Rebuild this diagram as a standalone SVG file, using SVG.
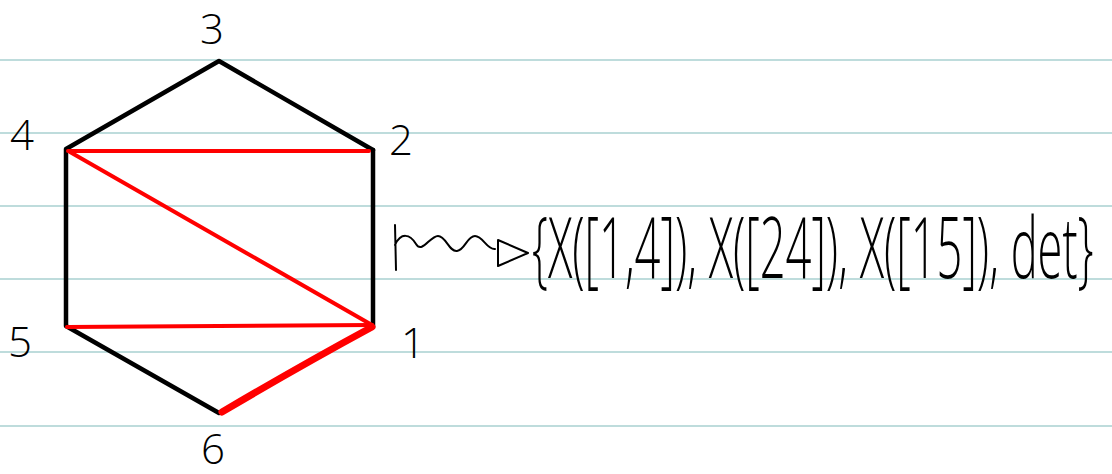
<svg xmlns="http://www.w3.org/2000/svg" width="1112" height="474" viewBox="0 0 1112 474">
<style>
.rule{stroke:#a9d0d0;stroke-width:1.5}
.edge{stroke:#000;stroke-width:4.5;fill:none;stroke-linecap:round;stroke-linejoin:round}
.red{stroke:#ff0000;stroke-width:4;fill:none;stroke-linecap:round}
.thick{stroke:#ff0000;stroke-width:7;fill:none;stroke-linecap:round}
.lbl{font-family:"Open Sans","Liberation Sans",sans-serif;font-weight:300;font-size:42px;fill:#000;text-anchor:middle}
.ink{stroke:#000;stroke-width:2;fill:none;stroke-linecap:round;stroke-linejoin:round}
</style>
<rect width="1112" height="474" fill="#fff"/>
<g id="rules">
<line class="rule" x1="0" y1="60" x2="1112" y2="60"/>
<line class="rule" x1="0" y1="133" x2="1112" y2="133"/>
<line class="rule" x1="0" y1="206" x2="1112" y2="206"/>
<line class="rule" x1="0" y1="279" x2="1112" y2="279"/>
<line class="rule" x1="0" y1="352" x2="1112" y2="352"/>
<line class="rule" x1="0" y1="426" x2="1112" y2="426"/>
</g>
<g id="connectors">
<polyline class="edge" points="373,150 219,61 66,149 66,326 219,413"/>
<line class="edge" x1="373" y1="150" x2="373" y2="327"/>
<line class="red" x1="68" y1="151" x2="369" y2="151"/>
<line class="red" x1="70" y1="152" x2="372" y2="325"/>
<line class="red" x1="67" y1="327" x2="372" y2="325"/>
<path class="thick" d="M372,327 Q300,366 222,412"/>
</g>
<g id="node-3"><text class="lbl" x="212" y="44">3</text></g>
<g id="node-4"><text class="lbl" x="22" y="150">4</text></g>
<g id="node-2"><text class="lbl" x="401" y="155">2</text></g>
<g id="node-5"><text class="lbl" x="20" y="357">5</text></g>
<g id="node-1"><text class="lbl" x="413" y="358">1</text></g>
<g id="node-6"><text class="lbl" x="213" y="464">6</text></g>
<g id="result">
<path class="ink" d="M395,225 L396,270 M395,245 C401,232 410,234 416,244 C422,254 430,236 438,236 C446,236 449,252 457,251 C465,250 467,236 475,236 C483,236 487,250 495,249"/>
<path class="ink" d="M498,240 L528,253 L498,266 Z"/>
<text transform="translate(532,278) scale(0.556,1)" x="0" y="0" font-family="Open Sans, Liberation Sans, sans-serif" font-weight="300" font-size="84" textLength="1010" lengthAdjust="spacingAndGlyphs">{X([1,4]), X([24]), X([15]), det}</text>
</g>
</svg>
